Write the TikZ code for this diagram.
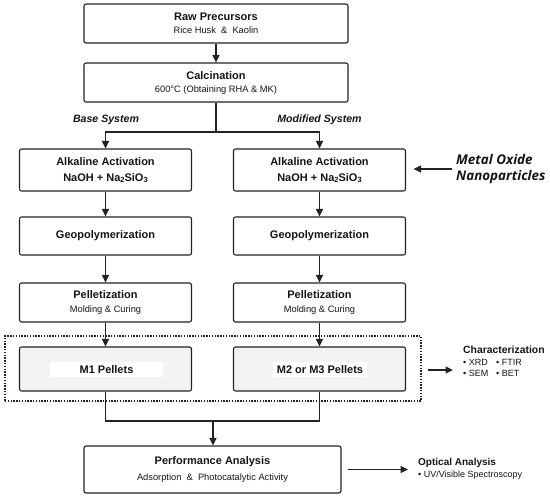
\documentclass[tikz,border=0pt]{standalone}
\usepackage{fontspec}
\setmainfont{Liberation Sans}
\newfontfamily\metalfont{Open Sans}
\usetikzlibrary{arrows.meta}
\definecolor{lc}{HTML}{222222}
\definecolor{tx}{HTML}{151515}
\definecolor{mfill}{HTML}{F3F3F3}
\newcommand\myTtl{\fontsize{11}{13}\selectfont\bfseries}
\newcommand\mySub{\fontsize{9.3}{13}\selectfont\mdseries}
\newcommand\mySubNum[1]{\raisebox{-0.6pt}{\fontsize{7.5}{8}\selectfont #1}}
\begin{document}
\begin{tikzpicture}[x=1pt,y=-1pt,
  box/.style={draw=lc, line width=1.1pt, rounded corners=2pt, fill=white, text=tx,
    align=center, inner sep=0pt, font=\myTtl},
  arr/.style={draw=lc, line width=1.1pt, -{Triangle[length=7.5pt,width=7pt]}},
  plain/.style={draw=lc, line width=1.1pt},
  lbl/.style={inner sep=0pt, text=tx, align=left},
  dotbox/.style={draw=lc, line width=1.3pt, dash pattern=on 1.4pt off 1.4pt, inner sep=0pt}
]
\useasboundingbox (0,0) rectangle (550,497);

% dotted group box
\node[dotbox, minimum width=416pt, minimum height=65pt] (grp) at (213,368.5) {};

% top chain
\node[box, minimum width=264pt, minimum height=39pt] (raw) at (216,23.5)
  {Raw Precursors\\{\mySub Rice Husk \ \&\ \ Kaolin}};
\node[box, minimum width=264pt, minimum height=39pt] (calc) at (216,82.5)
  {Calcination\\{\mySub 600°C (Obtaining RHA \& MK)}};

% system labels
\node[lbl, font=\fontsize{10.6}{12}\selectfont\bfseries\itshape] (base) at (106,120) {Base System};
\node[lbl, font=\fontsize{10.6}{12}\selectfont\bfseries\itshape] (modi) at (319.5,120) {Modified System};

% left column
\node[box, minimum width=172pt, minimum height=42pt] (aa1) at (105.5,170)
  {Alkaline Activation\\[3pt]NaOH + Na\mySubNum{2}SiO\mySubNum{3}};
\node[box, minimum width=172pt, minimum height=38pt] (geo1) at (105.5,236) {Geopolymerization};
\node[box, minimum width=172pt, minimum height=39pt] (pel1) at (105.5,302.5)
  {Pelletization\\[1pt]{\mySub Molding \& Curing}};
\node[box, fill=mfill, minimum width=172pt, minimum height=44pt] (m1) at (105.5,369) {};
\node[fill=white, inner sep=0pt, minimum width=113pt, minimum height=15pt, text=tx, font=\myTtl]
  (m1t) at (106.5,369.5) {M1 Pellets};

% right column
\node[box, minimum width=172pt, minimum height=42pt] (aa2) at (319.5,170)
  {Alkaline Activation\\[3pt]NaOH + Na\mySubNum{2}SiO\mySubNum{3}};
\node[box, minimum width=172pt, minimum height=38pt] (geo2) at (319.5,236) {Geopolymerization};
\node[box, minimum width=172pt, minimum height=39pt] (pel2) at (319.5,302.5)
  {Pelletization\\[1pt]{\mySub Molding \& Curing}};
\node[box, fill=mfill, minimum width=172pt, minimum height=44pt] (m2) at (319.5,369) {};
\node[fill=white, inner sep=0pt, minimum width=94pt, minimum height=15pt, text=tx, font=\myTtl]
  (m2t) at (320,369.5) {M2 or M3 Pellets};

% performance
\node[box, minimum width=257pt, minimum height=47pt] (perf) at (212.5,469.5)
  {Performance Analysis\\[3pt]{\mySub Adsorption \ \&\ \ Photocatalytic Activity}};

% side labels
\node[lbl, anchor=west, font=\metalfont\fontsize{13.4}{16.5}\selectfont\bfseries\itshape] (metal) at (456,169)
  {Metal Oxide\\Nanoparticles};
\node[lbl, anchor=west] (char) at (463,361.5)
  {{\fontsize{10.4}{12}\selectfont\bfseries Characterization}\\[-0.5pt]
   {\fontsize{9}{11}\selectfont\makebox[33pt][l]{• XRD}• FTIR}\\[-0.5pt]
   {\fontsize{9}{11}\selectfont\makebox[33pt][l]{• SEM}• BET}};
\node[lbl, anchor=west] (opt) at (418,468.5)
  {{\fontsize{10}{12}\selectfont\bfseries Optical Analysis}\\[0pt]
   {\fontsize{9}{11}\selectfont • UV/Visible Spectroscopy}};

% connectors
\coordinate (split) at (216,132);
\coordinate (merge) at (213,421);
\coordinate (charin) at (453,370);
\coordinate (optin) at (408,469.5);

\draw[arr] (raw) -- (calc);
\draw[plain] (calc.south) -- (split);
\draw[arr] (split) -| (aa1.north);
\draw[arr] (split) -| (aa2.north);
\draw[arr] (aa1) -- (geo1);
\draw[arr] (geo1) -- (pel1);
\draw[arr] (pel1) -- (m1);
\draw[arr] (aa2) -- (geo2);
\draw[arr] (geo2) -- (pel2);
\draw[arr] (pel2) -- (m2);
\draw[plain] (m1.south) |- (merge) -| (m2.south);
\draw[arr] (merge) -- (perf.north -| merge);
\draw[arr] ([xshift=-4pt]metal.west) -- ([xshift=7.5pt]aa2.east |- metal.west);
\draw[arr] ([xshift=6pt]grp.east |- charin) -- (charin);
\draw[arr] ([xshift=6pt]perf.east) -- (optin);
\end{tikzpicture}
\end{document}
